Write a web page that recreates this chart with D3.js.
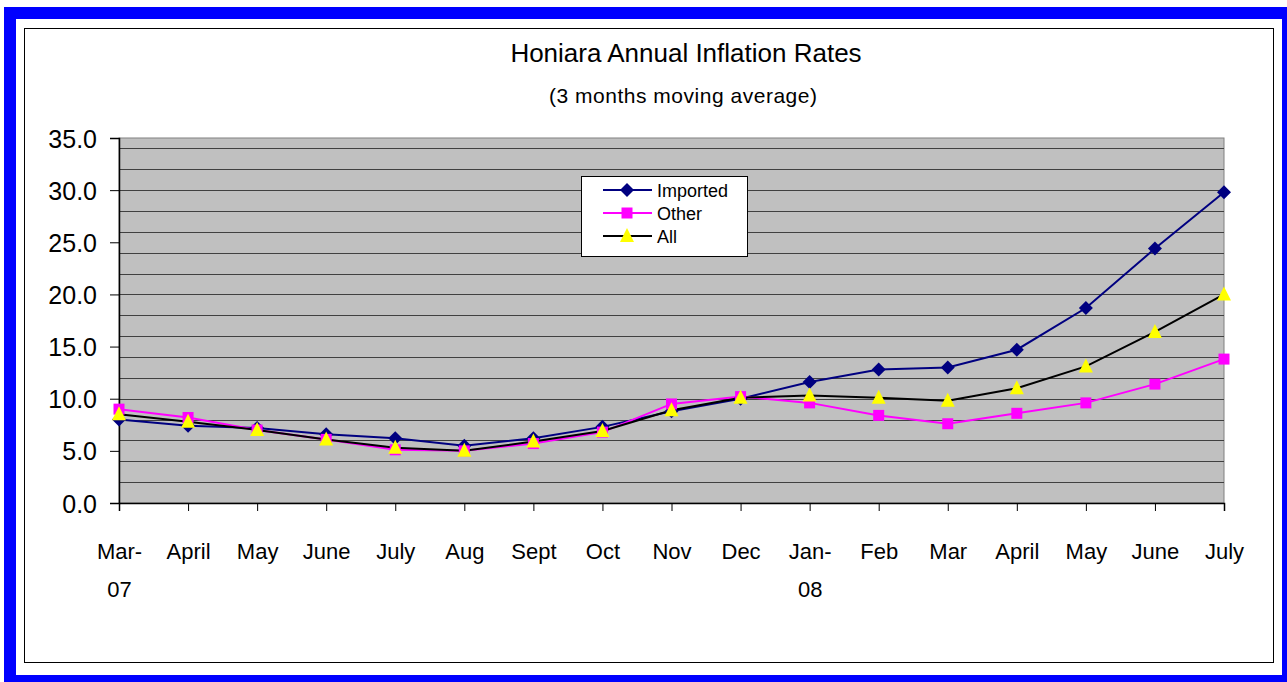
<!DOCTYPE html>
<html><head><meta charset="utf-8">
<script src="https://cdn.jsdelivr.net/npm/d3@7"></script>
<style>html,body{margin:0;padding:0;background:#fff;}svg{display:block;}</style>
</head><body>
<script>
const categories = [["Mar-","07"],["April"],["May"],["June"],["July"],["Aug"],["Sept"],["Oct"],["Nov"],["Dec"],["Jan-","08"],["Feb"],["Mar"],["April"],["May"],["June"],["July"]];
const imported = [8.0,7.4,7.2,6.6,6.2,5.5,6.2,7.3,8.8,10.0,11.6,12.8,13.0,14.7,18.7,24.4,29.8];
const other    = [9.0,8.2,7.0,6.1,5.1,5.0,5.7,6.8,9.5,10.2,9.6,8.4,7.6,8.6,9.6,11.4,13.8];
const all      = [8.5,7.8,7.0,6.1,5.3,5.0,5.9,6.9,8.9,10.1,10.3,10.1,9.8,11.0,13.1,16.4,20.0];
const yTicks = [0,5,10,15,20,25,30,35];
const gridValues = d3.range(0,35,2);
const seriesNames = ["Imported","Other","All"];

const W=1287,H=682;
const svg=d3.select("body").append("svg").attr("width",W).attr("height",H);
const font="'Liberation Sans', Arial, sans-serif";

// blue frame
svg.append("rect").attr("x",4).attr("y",7).attr("width",1300).attr("height",690).attr("fill","#0000FF");
svg.append("rect").attr("x",16).attr("y",19).attr("width",1266).attr("height",656).attr("fill","#fff");
svg.append("rect").attr("x",24.5).attr("y",28.5).attr("width",1249).attr("height",634).attr("fill","#fff").attr("stroke","#000").attr("stroke-width",1);

const L=119,R=1224,T=138,B=503;
const x=d3.scalePoint().domain(d3.range(categories.length)).range([L,R]);
const y=d3.scaleLinear().domain([0,35]).range([B,T]);

svg.append("rect").attr("x",L).attr("y",T).attr("width",R-L).attr("height",B-T).attr("fill","#C0C0C0").attr("stroke","#808080");

svg.append("g").selectAll("line").data(gridValues.filter(v=>v>0)).join("line")
  .attr("x1",L).attr("x2",R).attr("y1",d=>Math.round(y(d))+0.5).attr("y2",d=>Math.round(y(d))+0.5)
  .attr("stroke","#404040").attr("stroke-width",1.2);

// title
svg.append("text").attr("x",686).attr("y",62).attr("text-anchor","middle").attr("font-family",font).attr("font-size",26).attr("fill","#000").text("Honiara Annual Inflation Rates");
svg.append("text").attr("x",549).attr("y",103).attr("textLength",268).attr("lengthAdjust","spacing").attr("font-family",font).attr("font-size",21).attr("fill","#000").text("(3 months moving average)");

// y axis
const yAxis=d3.axisLeft(y).tickValues(yTicks).tickSize(9).tickFormat(d3.format(".1f"));
const gy=svg.append("g").attr("transform",`translate(${L},0)`).call(yAxis);
gy.select(".domain").attr("stroke","#000").attr("stroke-width",1.5);
gy.selectAll(".tick line").attr("stroke","#000");
gy.selectAll(".tick text").attr("font-family",font).attr("font-size",25).attr("fill","#000").attr("x",-22).attr("dy","0.36em");

// x axis
const xAxis=d3.axisBottom(x).tickSize(8).tickFormat(()=>"");
const gx=svg.append("g").attr("transform",`translate(0,${B})`).call(xAxis);
gx.select(".domain").attr("stroke","#000").attr("stroke-width",1.5);
gx.selectAll(".tick line").attr("stroke","#000");
gx.selectAll(".tick").each(function(d){
  const t=d3.select(this).append("text").attr("font-family",font).attr("font-size",22).attr("fill","#000").attr("text-anchor","middle");
  categories[d].forEach((s,i)=>t.append("tspan").attr("x",0).attr("y",i===0?56:94).text(s));
});

// series
const series=[
  {name:"Imported",values:imported,color:"#000080",marker:"diamond",fill:"#000080"},
  {name:"Other",values:other,color:"#FF00FF",marker:"square",fill:"#FF00FF"},
  {name:"All",values:all,color:"#000000",marker:"triangle",fill:"#FFFF00"}
];
const line=d3.line().x((d,i)=>x(i)).y(d=>y(d));
function markerPath(type){
  if(type==="diamond") return "M0,-7L7,0L0,7L-7,0Z";
  if(type==="square") return "M-5.5,-5.5H5.5V5.5H-5.5Z";
  return "M0,-8L7,6H-7Z";
}
series.forEach(s=>{
  svg.append("path").datum(s.values).attr("d",line).attr("fill","none").attr("stroke",s.color).attr("stroke-width",2);
});
series.forEach(s=>{
  svg.append("g").selectAll("path").data(s.values).join("path")
    .attr("transform",(d,i)=>`translate(${x(i)},${y(d)})`).attr("d",markerPath(s.marker)).attr("fill",s.fill);
});

// legend
const lg=svg.append("g");
lg.append("rect").attr("x",581.5).attr("y",176.5).attr("width",166).attr("height",80).attr("fill","#fff").attr("stroke","#000");
series.forEach((s,i)=>{
  const yy=190+i*23;
  lg.append("line").attr("x1",603).attr("x2",652).attr("y1",yy).attr("y2",yy).attr("stroke",s.color).attr("stroke-width",2);
  lg.append("path").attr("transform",`translate(627,${yy})`).attr("d",markerPath(s.marker)).attr("fill",s.fill);
  lg.append("text").attr("x",657).attr("y",yy+6.5).attr("font-family",font).attr("font-size",18).attr("fill","#000").text(s.name);
});
</script>
</body></html>
